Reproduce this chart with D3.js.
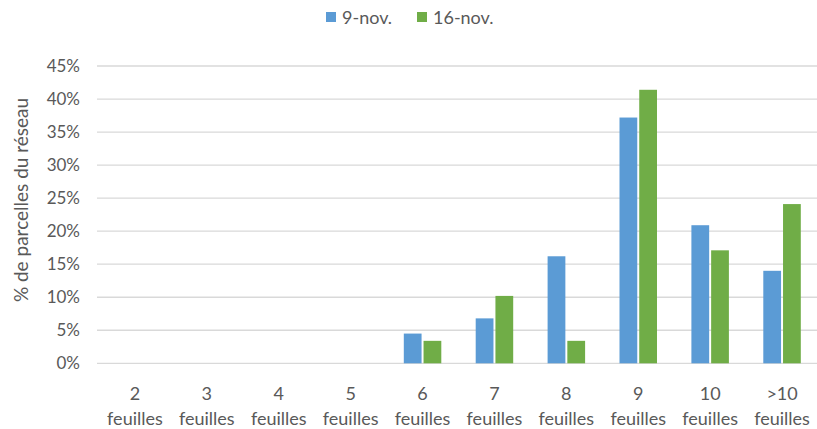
<!DOCTYPE html>
<html><head><meta charset="utf-8">
<script src="https://cdn.jsdelivr.net/npm/d3@7"></script>
<style>body{margin:0;background:#fff}svg{display:block}</style>
</head><body>
<script>
const categories = ["2","3","4","5","6","7","8","9","10",">10"];
const categorySuffix = "feuilles";
const seriesNames = ["9-nov.","16-nov."];
const series9nov = [0,0,0,0,4.5,6.8,16.2,37.2,20.9,14.0];
const series16nov = [0,0,0,0,3.4,10.2,3.4,41.4,17.1,24.1];
const yTicks = [0,5,10,15,20,25,30,35,40,45];
const yTitle = "% de parcelles du réseau";
const colors = ["#5B9BD5","#70AD47"];

const W=817,H=429;
const font="Lato, 'Open Sans', sans-serif";
const svg=d3.select("body").append("svg").attr("width",W).attr("height",H);
const pLeft=99, pRight=818, pTop=66, pBottom=363.3;
const x=d3.scaleBand().domain(categories).range([pLeft,pRight]);
const y=d3.scaleLinear().domain([0,45]).range([pBottom,pTop]);
const xs=d3.scaleBand().domain(seriesNames).range([0,37.5]).paddingInner(0.1);

// gridlines
svg.append("g").selectAll("line").data(yTicks).join("line")
 .attr("x1",97).attr("x2",817).attr("y1",d=>y(d)).attr("y2",d=>y(d))
 .attr("stroke","#d9d9d9").attr("stroke-width",1.3);

// y tick labels
const yAxis=d3.axisLeft(y).tickValues(yTicks).tickFormat(d=>d+"%").tickSize(0).tickPadding(0);
const ga=svg.append("g").attr("transform","translate(80,0)").call(yAxis);
ga.select(".domain").remove();
ga.selectAll("text").attr("font-family",font).attr("font-size",17).attr("fill","#595959");

// y title
svg.append("text").attr("transform",`translate(20,200) rotate(-90)`)
 .attr("text-anchor","middle").attr("dominant-baseline","central").attr("font-family",font).attr("font-size",19).attr("fill","#595959").text(yTitle);

// bars
const data=[series9nov,series16nov];
data.forEach((vals,si)=>{
  svg.append("g").selectAll("rect").data(categories.map((c,i)=>({c,v:vals[i]}))).join("rect")
   .attr("x",d=>x(d.c)+x.bandwidth()/2-18.75+xs(seriesNames[si]))
   .attr("width",xs.bandwidth())
   .attr("y",d=>y(d.v)).attr("height",d=>pBottom-y(d.v))
   .attr("fill",colors[si]);
});

// x labels
const gx=svg.append("g");
categories.forEach(c=>{
  const cx=x(c)+x.bandwidth()/2;
  const t=gx.append("text").attr("text-anchor","middle").attr("font-family",font).attr("font-size",18).attr("fill","#595959");
  t.append("tspan").attr("x",cx).attr("y",400).text(c);
  t.append("tspan").attr("x",cx).attr("y",425).text(categorySuffix);
});

// legend
const leg=[{n:seriesNames[0],x:326},{n:seriesNames[1],x:417}];
leg.forEach((l,i)=>{
  svg.append("rect").attr("x",l.x).attr("y",12).attr("width",10).attr("height",10).attr("fill",colors[i]);
  svg.append("text").attr("x",l.x+16).attr("y",24).attr("font-family",font).attr("font-size",18).attr("fill","#595959").text(l.n);
});
</script>
</body></html>
